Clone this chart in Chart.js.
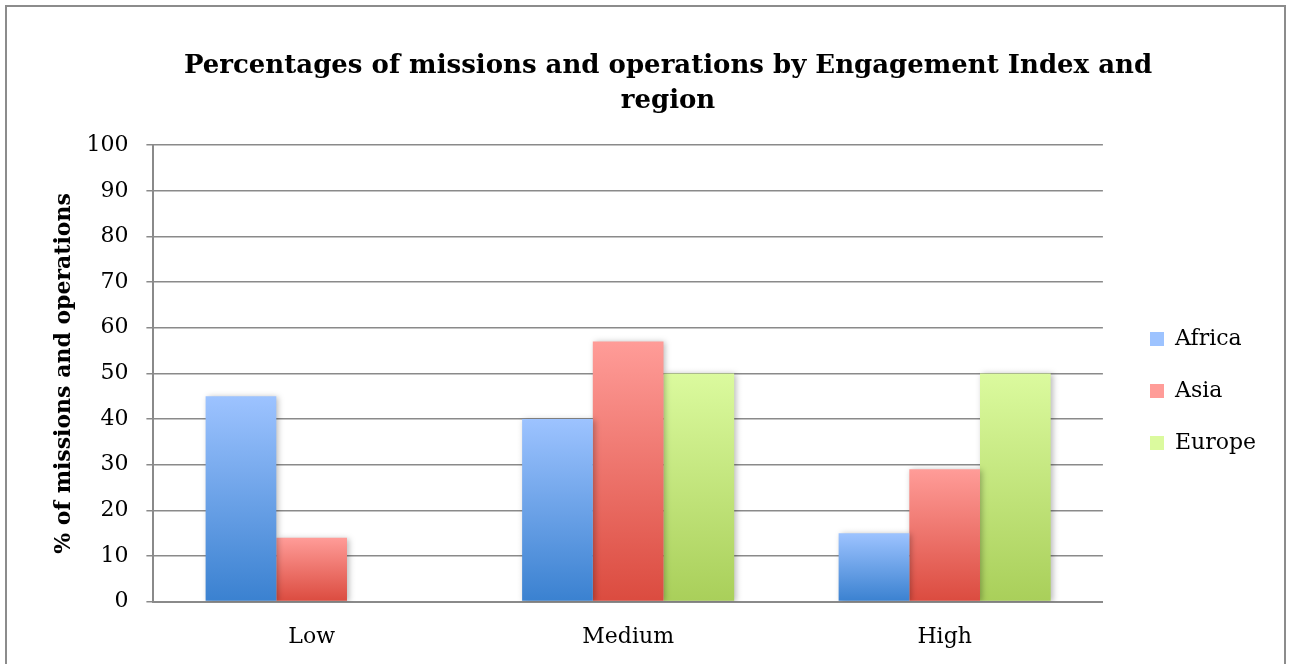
<!DOCTYPE html>
<html>
<head>
<meta charset="utf-8">
<script src="https://cdn.jsdelivr.net/npm/chart.js@4/dist/chart.umd.min.js"></script>
<style>
html,body{margin:0;padding:0;background:#fff;}
#wrap{position:relative;width:1291px;height:664px;}
</style>
</head>
<body>
<div id="wrap"><canvas id="c" width="1291" height="664"></canvas></div>
<script>
const categories = ["Low", "Medium", "High"];
const africa = [45, 40, 15];
const asia = [14, 57, 29];
const europe = [0, 50, 50];
const seriesNames = ["Africa", "Asia", "Europe"];
const yTicks = [0, 10, 20, 30, 40, 50, 60, 70, 80, 90, 100];
const titleLines = ["Percentages of missions and operations by Engagement Index and", "region"];
const yTitle = "% of missions and operations";

const palette = [
  {top: "#9DC3FF", bottom: "#3A81D0", mid: "#6FA3EA"},
  {top: "#FF9C98", bottom: "#DB4B3F", mid: "#EE746C"},
  {top: "#DBFA9E", bottom: "#A9CF5A", mid: "#C2E57C"}
];

function gradFill(idx) {
  return function(ctx) {
    const p = palette[idx];
    const chart = ctx.chart;
    if (ctx.dataIndex === undefined || !chart.chartArea) return p.mid;
    const v = ctx.dataset.data[ctx.dataIndex];
    const ys = chart.scales.y;
    const yTop = ys.getPixelForValue(v), yBot = ys.getPixelForValue(0);
    if (!(yBot - yTop > 1)) return p.top;
    const g = chart.ctx.createLinearGradient(0, yTop, 0, yBot);
    g.addColorStop(0, p.top);
    g.addColorStop(1, p.bottom);
    return g;
  };
}

const frame = {
  id: "frame",
  afterLayout(chart) {
    const t = chart.titleBlock;
    if (t) {
      const w = t.right - t.left;
      t.left = 668 - w / 2;
      t.right = 668 + w / 2;
    }
    const lg = chart.legend;
    if (lg) {
      const w = lg.right - lg.left, h = lg.bottom - lg.top;
      lg.left = 1120; lg.right = 1120 + w;
      lg.top = 298; lg.bottom = 298 + h;
    }
  },
  beforeDraw(chart) {
    const c = chart.ctx;
    c.save();
    c.fillStyle = "#fff";
    c.fillRect(0, 0, chart.width, chart.height);
    c.strokeStyle = "#8c8c8c";
    c.lineWidth = 2;
    c.strokeRect(6, 6, 1279, 720);
    c.restore();
  },
  beforeDatasetsDraw(chart) {
    const c = chart.ctx;
    c.save();
    c.shadowColor = "rgba(0,0,0,0.28)";
    c.shadowBlur = 6;
    c.shadowOffsetX = 2;
    c.shadowOffsetY = 1;
  },
  afterDatasetsDraw(chart) {
    chart.ctx.restore();
  }
};

const FONT = "'DejaVu Serif', serif";

new Chart(document.getElementById("c"), {
  type: "bar",
  data: {
    labels: categories,
    datasets: [
      {label: seriesNames[0], data: africa, backgroundColor: gradFill(0)},
      {label: seriesNames[1], data: asia, backgroundColor: gradFill(1)},
      {label: seriesNames[2], data: europe, backgroundColor: gradFill(2)}
    ]
  },
  options: {
    responsive: false,
    animation: false,
    devicePixelRatio: 1,
    datasets: {bar: {categoryPercentage: 0.67, barPercentage: 1.0, borderWidth: 0}},
    layout: {padding: {left: 34, right: 42, top: 0, bottom: 0}},
    plugins: {
      title: {
        display: true,
        text: titleLines,
        color: "#000",
        font: {family: FONT, size: 26, weight: "bold", lineHeight: 1.35},
        padding: {top: 49, bottom: 26}
      },
      legend: {
        position: "right",
        align: "start",
        labels: {
          color: "#000",
          font: {family: FONT, size: 22},
          boxWidth: 14,
          boxHeight: 14,
          padding: 30
        }
      },
      tooltip: {enabled: false}
    },
    scales: {
      x: {
        grid: {display: false, drawTicks: false},
        border: {display: true, color: "#8a8a8a", width: 2},
        ticks: {color: "#000", font: {family: FONT, size: 22}, padding: 22},
        afterFit(scale) { scale.height -= 8; }
      },
      y: {
        min: 0,
        max: 100,
        afterBuildTicks(axis) { axis.ticks = yTicks.map(v => ({value: v})); },
        grid: {color: "#8a8a8a", lineWidth: 1.5, tickLength: 7, drawTicks: true},
        border: {display: true, color: "#8a8a8a", width: 2},
        ticks: {color: "#000", font: {family: FONT, size: 22}, padding: 18},
        afterFit(scale) { scale.width -= 9; },
        title: {
          display: true,
          text: yTitle,
          color: "#000",
          font: {family: FONT, size: 22, weight: "bold"},
          padding: {top: 17, bottom: 0}
        }
      }
    }
  },
  plugins: [frame]
});
</script>
</body>
</html>
